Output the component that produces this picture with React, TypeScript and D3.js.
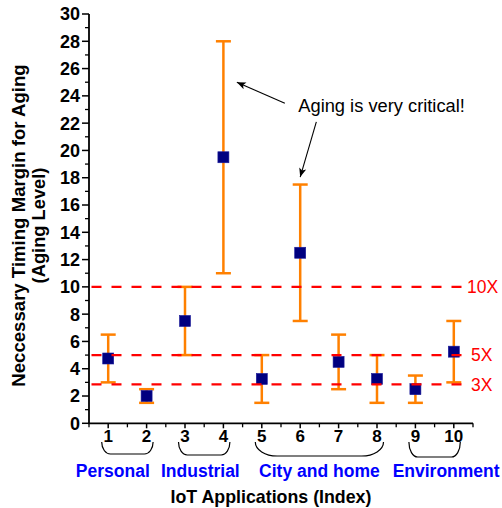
import React from "react";
import * as d3 from "d3";

// ---- data ----
const indices = [1, 2, 3, 4, 5, 6, 7, 8, 9, 10];
const means = [4.75, 2, 7.5, 19.5, 3.25, 12.5, 4.5, 3.25, 2.5, 5.25];
const lows = [3, 1.5, 5, 11, 1.5, 7.5, 2.5, 1.5, 1.5, 3];
const highs = [6.5, 2.5, 10, 28, 5, 17.5, 6.5, 5, 3.5, 7.5];

const groupNames = ["Personal", "Industrial", "City and home", "Environment"];
const groupFrom = [1, 3, 5, 9];
const groupTo = [2, 4, 8, 10];

const refLevels = [10, 5, 2.85];
const refLabels = ["10X", "5X", "3X"];

const yMajorTicks = d3.range(0, 31, 2);
const yMinorTicks = d3.range(1, 30, 2);
const xMinorTicks = d3.range(0.5, 10.6, 1);

const yTitle1 = "Neccessary Timing Margin for Aging";
const yTitle2 = "(Aging Level)";
const xTitle = "IoT Applications (Index)";
const annotation = "Aging is very critical!";

export default function App() {
  const W = 502;
  const H = 508;
  const x = d3.scaleLinear().domain([0.5, 10.5]).range([89, 473]);
  const y = d3.scaleLinear().domain([0, 30]).range([423.3, 14]);
  const orange = "#FF8000";
  const navy = "#000080";
  const red = "#FF0000";
  const blue = "#0000FF";
  const font = "'Liberation Sans', Arial, sans-serif";
  const cap = 7.5;
  const ms = 11;

  const groupLabelX = [x(1.12), x(3.4), x(6.5), x(9.8)];
  const braceTop = 442;
  const braceBottom = [454, 455, 456, 457];

  const bracePath = (x0: number, x1: number, yb: number) => {
    const w = x1 - x0;
    const rx = Math.max(8, w * 0.17);
    const ry = yb - braceTop;
    return `M${x0},${braceTop} A${rx},${ry} 0 0 0 ${x0 + rx},${yb} L${x1 - rx},${yb} A${rx},${ry} 0 0 0 ${x1},${braceTop}`;
  };

  const arrow1 = { x1: 5.6, y1: 23.45, x2: 4.35, y2: 25 };
  const arrow2 = { x1: 6.42, y1: 22.1, x2: 6.0, y2: 18.05 };

  return (
    <svg
      width={W}
      height={H}
      style={{ position: "absolute", left: 0, top: 0, background: "#fff" }}
      fontFamily={font}
    >
      <defs>
        <marker id="ah" viewBox="0 0 10 10" refX="10" refY="5" markerWidth="9" markerHeight="9" markerUnits="userSpaceOnUse" orient="auto">
          <path d="M0,1 L10,5 L0,9 L2.5,5 z" fill="#000" />
        </marker>
      </defs>
      <rect width={W} height={H} fill="#fff" />

      {/* error bars */}
      {indices.map((d, i) => (
        <g key={"e" + d} stroke={orange} strokeWidth={2.5}>
          <line x1={x(d)} x2={x(d)} y1={y(lows[i])} y2={y(highs[i])} />
          <line x1={x(d) - cap} x2={x(d) + cap} y1={y(lows[i])} y2={y(lows[i])} />
          <line x1={x(d) - cap} x2={x(d) + cap} y1={y(highs[i])} y2={y(highs[i])} />
        </g>
      ))}
      {/* markers */}
      {indices.map((d, i) => (
        <rect key={"m" + d} x={x(d) - ms / 2} y={y(means[i]) - ms / 2} width={ms} height={ms} fill={navy} stroke="#1a1a9a" strokeWidth={0.6} />
      ))}

      {/* reference lines */}
      {refLevels.map((v, i) => (
        <g key={"r" + i}>
          <line x1={89} x2={462} y1={y(v)} y2={y(v)} stroke={red} strokeWidth={2.2} strokeDasharray="10,10" strokeDashoffset={17.5} />
          <text x={i === 0 ? 467 : 471} y={y(v)} dy="0.36em" fill={red} fontSize={17.5}>{refLabels[i]}</text>
        </g>
      ))}

      {/* axes */}
      <line x1={89} x2={89} y1={y(30)} y2={y(0) + 0.8} stroke="#000" strokeWidth={1.8} />
      <line x1={88.1} x2={473} y1={y(0)} y2={y(0)} stroke="#000" strokeWidth={1.8} />
      {yMajorTicks.map((t) => (
        <g key={"yt" + t}>
          <line x1={82} x2={89} y1={y(t)} y2={y(t)} stroke="#000" strokeWidth={1.5} />
          <text x={80} y={y(t)} dy="0.36em" textAnchor="end" fontSize={18} fontWeight="bold">{t}</text>
        </g>
      ))}
      {yMinorTicks.map((t) => (
        <line key={"ym" + t} x1={85} x2={89} y1={y(t)} y2={y(t)} stroke="#000" strokeWidth={1.3} />
      ))}
      {indices.map((t) => (
        <g key={"xt" + t}>
          <line x1={x(t)} x2={x(t)} y1={y(0)} y2={y(0) + 5} stroke="#000" strokeWidth={1.5} />
          <text x={x(t)} y={441.5} textAnchor="middle" fontSize={17} fontWeight="bold">{t}</text>
        </g>
      ))}
      {xMinorTicks.map((t) => (
        <line key={"xm" + t} x1={x(t)} x2={x(t)} y1={y(0)} y2={y(0) + 4} stroke="#000" strokeWidth={1.3} />
      ))}

      {/* group braces and labels */}
      {groupNames.map((g, i) => (
        <g key={"g" + i}>
          <path d={bracePath(x(groupFrom[i]) - 6.5, x(groupTo[i]) + 6.5, braceBottom[i])} fill="none" stroke="#000" strokeWidth={1.2} />
          <text x={groupLabelX[i]} y={477} textAnchor="middle" fontSize={17.5} fontWeight="bold" fill={blue}>{g}</text>
        </g>
      ))}

      {/* titles */}
      <text x={271} y={503} textAnchor="middle" fontSize={17.8} fontWeight="bold">{xTitle}</text>
      <text transform="translate(25,225.5) rotate(-90)" textAnchor="middle" fontSize={18.6} fontWeight="bold">{yTitle1}</text>
      <text transform="translate(44.5,225.5) rotate(-90)" textAnchor="middle" fontSize={18.3} fontWeight="bold">{yTitle2}</text>

      {/* annotation */}
      <text x={x(5.95)} y={y(22.8)} fontSize={18.3}>{annotation}</text>
      <line x1={x(arrow1.x1)} y1={y(arrow1.y1)} x2={x(arrow1.x2)} y2={y(arrow1.y2)} stroke="#000" strokeWidth={1.1} markerEnd="url(#ah)" />
      <line x1={x(arrow2.x1)} y1={y(arrow2.y1)} x2={x(arrow2.x2)} y2={y(arrow2.y2)} stroke="#000" strokeWidth={1.1} markerEnd="url(#ah)" />
    </svg>
  );
}
